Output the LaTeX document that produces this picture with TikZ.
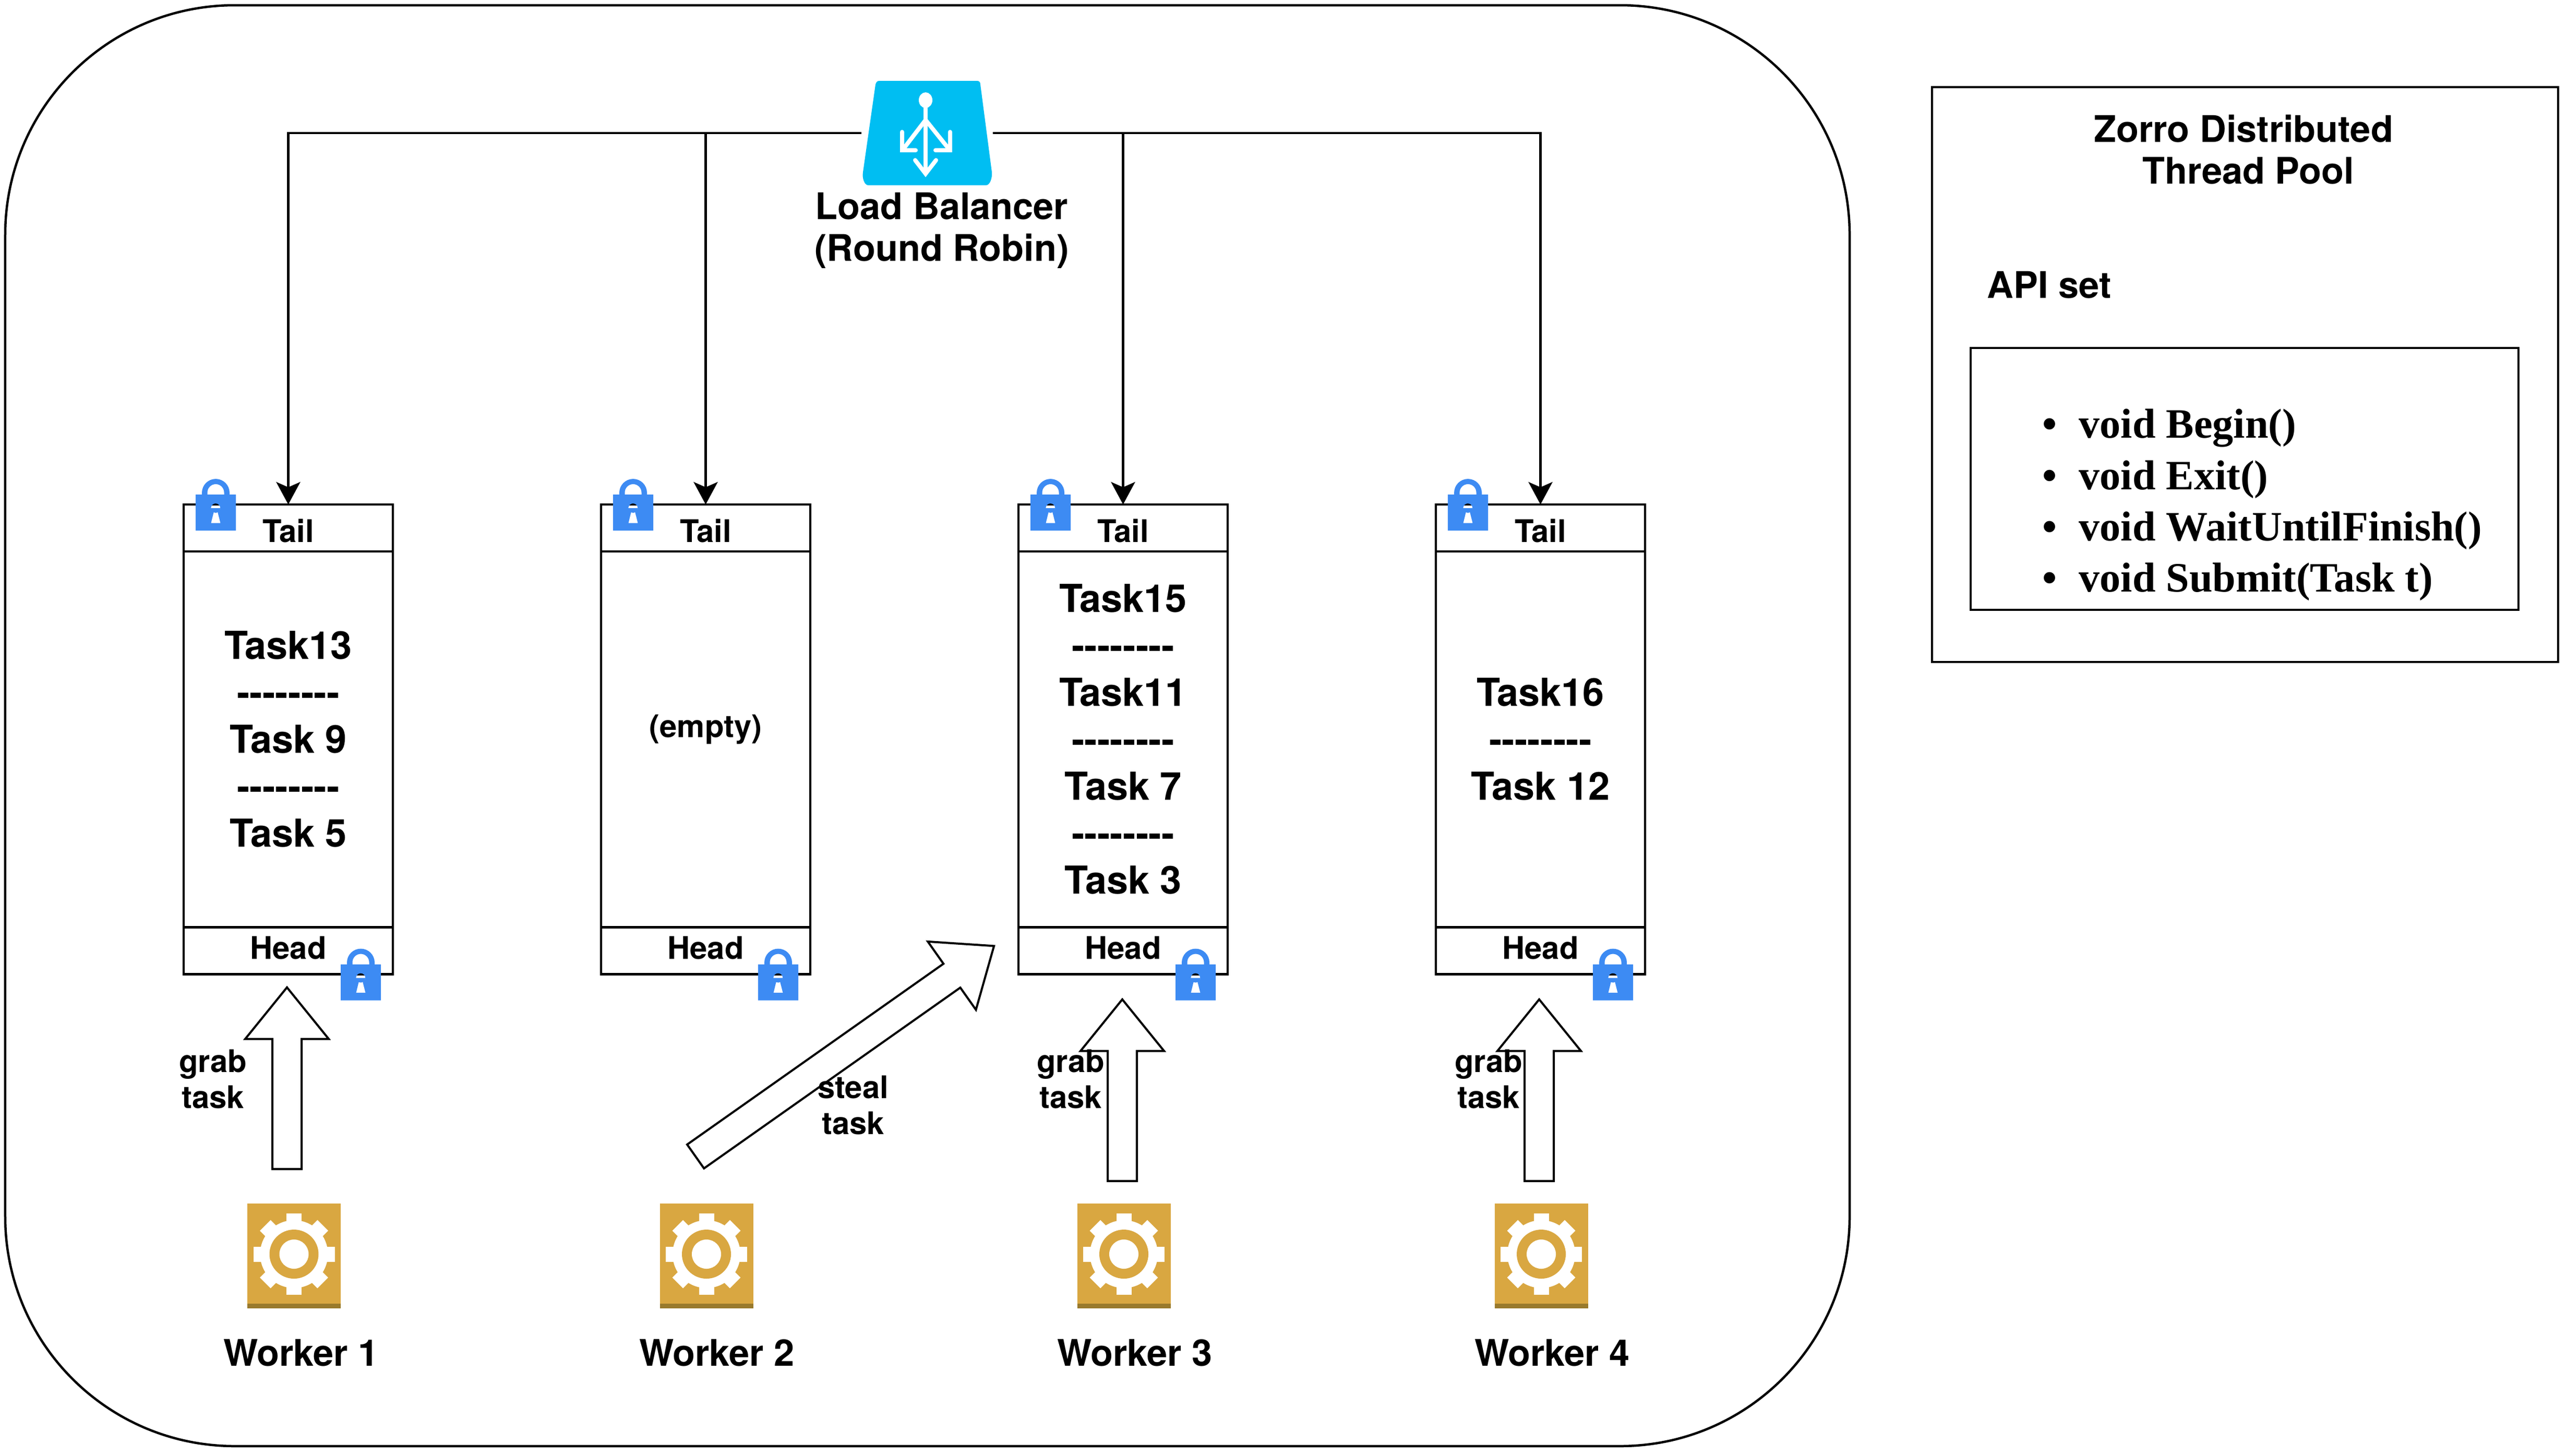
\documentclass[tikz,border=0pt]{standalone}
\usepackage{fontspec}
\setmainfont{TeX Gyre Heros}
\newfontfamily\apifont{Liberation Serif}
\usetikzlibrary{arrows.meta,shapes.arrows}
\definecolor{lbblue}{HTML}{00BEF2}
\definecolor{lockblue}{HTML}{3D8BF3}
\definecolor{geargold}{HTML}{D9A741}
\definecolor{geardark}{HTML}{997A2C}
\newcommand{\tasksep}{-{}-{}-{}-{}-{}-{}-{}-}
\newcommand{\apibullet}{\makebox[.7cm][l]{\textbullet}}
\tikzset{
    lockicon/.pic={
        \fill[lockblue, even odd rule] (-.385,-.495) rectangle (.385,.195)
            (.09,-.065) arc (0:-65:.09) -- (.09,-.35) -- (-.09,-.35) -- (-.04,-.147) arc (245:360:.09) arc (0:180:.09) -- cycle;
        \fill[lockblue, even odd rule] (-.265,.19) -- (-.265,.23) arc (180:0:.265 and .265) -- (.265,.19) -- cycle
            (-.16,.19) -- (-.16,.235) arc (180:0:.16 and .16) -- (.16,.19) -- cycle;
    },
    gearicon/.pic={
        \fill[geargold] (-.895,-1.005) rectangle (.895,1.005);
        \fill[geardark] (-.895,-1.005) rectangle (.895,-.915);
        \fill[white] (0,.03) circle (.65);
        \fill[white] (-.145,-.78) ++(0,.03) rectangle (.145,.81);
        \fill[white, rotate around={90:(0,.03)}] (-.145,-.75) rectangle (.145,.81);
        \fill[white, rotate around={45:(0,.03)}] (-.145,-.75) rectangle (.145,.81);
        \fill[white, rotate around={-45:(0,.03)}] (-.145,-.75) rectangle (.145,.81);
        \fill[geargold] (0,.03) circle (.47);
        \fill[white] (0,.03) circle (.28);
    },
    lbicon/.pic={
        \fill[lbblue] (-.92,1) -- (.96,1) .. controls (1,1) and (1.02,.97) .. (1.02,.93) -- (1.24,-.75)
            .. controls (1.25,-.87) and (1.2,-1) .. (1.13,-1) -- (-1.13,-1)
            .. controls (-1.2,-1) and (-1.25,-.87) .. (-1.23,-.75) -- (-.99,.93) .. controls (-.98,.97) and (-.96,1) .. (-.92,1) -- cycle;
        \fill[white] (-.03,.63) ellipse (.13 and .15);
        \draw[white, line width=.08cm] (-.03,.55) -- (-.03,-.78);
        \draw[white, line width=.08cm] (-.03,.25) -- (-.46,-.31);
        \draw[white, line width=.08cm] (-.03,.25) -- (.42,-.31);
        \draw[white, line width=.08cm, line cap=round] (-.48,.02) -- (-.48,-.33) -- (-.22,-.33);
        \draw[white, line width=.08cm, line cap=round] (.44,.02) -- (.44,-.33) -- (.16,-.33);
        \draw[white, line width=.08cm, line cap=round] (-.23,-.52) -- (-.03,-.78) -- (.17,-.52);
    }
}
\begin{document}
\begin{tikzpicture}[
    frame/.style={rectangle, draw, line width=.045cm, outer sep=0pt, inner sep=0pt},
    endbox/.style={frame, minimum width=4.01cm, minimum height=.9cm, font=\fontsize{17}{20}\selectfont\bfseries},
    tailbox/.style={endbox, text height=.55cm},
    headbox/.style={endbox, text depth=.12cm},
    bodybox/.style={frame, minimum width=4.01cm, minimum height=7.2cm, align=center, font=\fontsize{21}{25.6}\selectfont\bfseries},
    label/.style={align=center, inner sep=0pt, font=\fontsize{17}{19.6}\selectfont\bfseries},
    biglabel/.style={align=center, inner sep=0pt, font=\fontsize{20}{22.8}\selectfont\bfseries},
    fatarrow/.style={single arrow, draw, line width=.04cm, inner xsep=0pt, inner ysep=.26cm, outer sep=0pt, minimum width=1.58cm, single arrow head extend=.52cm, single arrow tip angle=78},
    flow/.style={->, >={Stealth[length=.43cm, width=.46cm, inset=.1cm]}, line width=.045cm}
]
    \useasboundingbox (0,0) rectangle (49.2,-27.9);

    % Pool
    \node[frame, rounded corners=4.4cm, minimum width=35.35cm, minimum height=27.62cm] (pool) at (17.775,-13.91) {};

    % Load balancer
    \node[inner sep=0pt, minimum width=2.5cm, minimum height=2cm] (lb) at (17.77,-2.55) {};
    \pic at (lb) {lbicon};
    \node[biglabel] (lbtext) at (18.05,-4.42) {Load Balancer\\(Round Robin)};

    % Queues
    \node[tailbox] (tail1) at (5.525,-10.12) {Tail};
    \node[bodybox] (body1) at (5.525,-14.17) {Task13\\\tasksep\\Task 9\\\tasksep\\Task 5};
    \node[headbox] (head1) at (5.525,-18.225) {Head};

    \node[tailbox] (tail2) at (13.525,-10.12) {Tail};
    \node[bodybox, font=\fontsize{17}{20}\selectfont\bfseries, text depth=.5cm] (body2) at (13.525,-14.17) {(empty)};
    \node[headbox] (head2) at (13.525,-18.225) {Head};

    \node[tailbox] (tail3) at (21.525,-10.12) {Tail};
    \node[bodybox] (body3) at (21.525,-14.17) {Task15\\\tasksep\\Task11\\\tasksep\\Task 7\\\tasksep\\Task 3};
    \node[headbox] (head3) at (21.525,-18.225) {Head};

    \node[tailbox] (tail4) at (29.525,-10.12) {Tail};
    \node[bodybox] (body4) at (29.525,-14.17) {Task16\\\tasksep\\Task 12};
    \node[headbox] (head4) at (29.525,-18.225) {Head};

    % Balancer lines
    \draw[flow] (lb.west) -| (tail1.north);
    \draw[flow] (lb.west) -| (tail2.north);
    \draw[flow] (lb.east) -| (tail3.north);
    \draw[flow] (lb.east) -| (tail4.north);

    % Locks
    \pic at (4.135,-9.675) {lockicon};
    \pic at (12.135,-9.675) {lockicon};
    \pic at (20.135,-9.675) {lockicon};
    \pic at (28.135,-9.675) {lockicon};
    \pic at (6.915,-18.68) {lockicon};
    \pic at (14.915,-18.68) {lockicon};
    \pic at (22.915,-18.68) {lockicon};
    \pic at (30.915,-18.68) {lockicon};

    % Workers
    \pic at (5.635,-24.07) {gearicon};
    \pic at (13.54,-24.07) {gearicon};
    \pic at (21.54,-24.07) {gearicon};
    \pic at (29.54,-24.07) {gearicon};
    \node[biglabel] (worker1) at (5.77,-25.93) {Worker 1};
    \node[biglabel] (worker2) at (13.74,-25.93) {Worker 2};
    \node[biglabel] (worker3) at (21.75,-25.93) {Worker 3};
    \node[biglabel] (worker4) at (29.75,-25.93) {Worker 4};

    % Grab and steal
    \node[fatarrow, minimum height=3.48cm, rotate=90] (grab1) at (5.5,-20.84) {};
    \node[fatarrow, minimum height=7cm, rotate=35.2] (steal2) at (16.05,-20.25) {};
    \node[fatarrow, minimum height=3.48cm, rotate=90] (grab3) at (21.51,-21.07) {};
    \node[fatarrow, minimum height=3.48cm, rotate=90] (grab4) at (29.5,-21.07) {};
    \node[label] (grabtext1) at (4.08,-20.68) {grab\\task};
    \node[label] (stealtext) at (16.35,-21.18) {steal\\task};
    \node[label] (grabtext3) at (20.52,-20.68) {grab\\task};
    \node[label] (grabtext4) at (28.53,-20.68) {grab\\task};

    % API panel
    \node[frame, minimum width=12cm, minimum height=11.02cm] (panel) at (43.03,-7.18) {};
    \node[biglabel] (title) at (43.0,-2.87) {Zorro Distributed\\\hspace*{.19cm}Thread Pool};
    \node[biglabel, anchor=west] (apiset) at (38.08,-5.46) {API set};
    \node[frame, minimum width=10.5cm, minimum height=5.02cm] (apibox) at (43.02,-9.18) {};
    \node[anchor=west, inner sep=0pt, align=left, font=\apifont\fontsize{22.8}{28}\selectfont\bfseries] (apilist) at (39.14,-9.68)
        {\apibullet void Begin()\\\apibullet void Exit()\\\apibullet void WaitUntilFinish()\\\apibullet void Submit(Task t)};
\end{tikzpicture}
\end{document}
